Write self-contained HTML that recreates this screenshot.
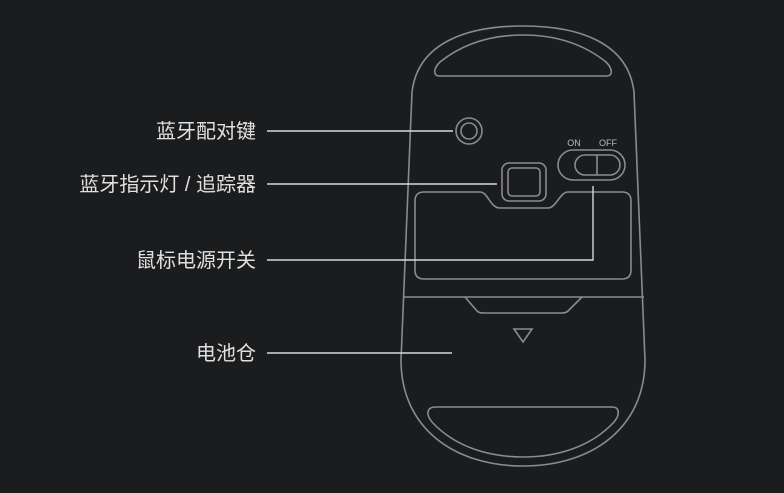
<!DOCTYPE html>
<html><head><meta charset="utf-8"><style>
body{margin:0;background:#1b1c1e;}
svg{display:block}
text{font-family:"Liberation Sans","Noto Sans CJK SC",sans-serif;}
</style></head><body>
<svg width="784" height="493" viewBox="0 0 784 493" xmlns="http://www.w3.org/2000/svg">
<rect width="784" height="493" fill="#1b1c1e"/>
<g fill="none" stroke="#8a8b8d" stroke-width="1.6">
<path d="M412,92 C418,42 468,26 523,26 C578,26 628,42 634,92 L645,360 C645,428 592,466 523,466 C454,466 401,428 401,360 Z"/>
<path d="M440,76 C432,76 434,68 440,62 C465,42 495,35 523,35 C551,35 581,42 606,62 C612,68 614,76 606,76 Z"/>
<circle cx="469" cy="131" r="13"/>
<circle cx="469" cy="131" r="8"/>
<rect x="502" y="163" width="44" height="38" rx="7"/>
<rect x="508" y="168" width="32" height="28" rx="4"/>
<rect x="558" y="150" width="67" height="30" rx="15"/>
<rect x="575" y="155" width="45" height="20" rx="10"/>
<line x1="597" y1="155" x2="597" y2="175"/>
<path d="M424,192 L480,192 C488,192 490,208 500,208 L548,208 C556,208 560,192 568,192 L622,192 Q631,192 631,201 L631,270 Q631,279 622,279 L424,279 Q415,279 415,270 L415,201 Q415,192 424,192 Z"/>
<line x1="403" y1="297" x2="644" y2="297"/>
<path d="M465,297 L477,311 Q479,313 483,313 L562,313 Q566,313 568,311 L582,297"/>
<path d="M514,329 L532,329 L523,342 Z"/>
<path d="M436,407 L612,407 C620,407 620,415 614,422 C590,448 555,457 523,457 C491,457 456,448 432,422 C426,415 426,407 436,407 Z"/>
</g>
<g stroke="#d8d8d8" stroke-width="1.4" fill="none">
<line x1="267" y1="131" x2="453" y2="131"/>
<line x1="267" y1="184" x2="497" y2="184"/>
<polyline points="267,260 593,260 593,186"/>
<line x1="267" y1="353" x2="452" y2="353"/>
</g>
<g fill="#e0e0e0" font-size="20" text-anchor="end">
<text x="256" y="138">蓝牙配对键</text>
<text x="256" y="191">蓝牙指示灯 / 追踪器</text>
<text x="256" y="267">鼠标电源开关</text>
<text x="256" y="360">电池仓</text>
</g>
<g fill="#bbbbbb" font-size="9" text-anchor="middle">
<text x="574" y="146">ON</text>
<text x="608" y="146">OFF</text>
</g>
</svg>
</body></html>
